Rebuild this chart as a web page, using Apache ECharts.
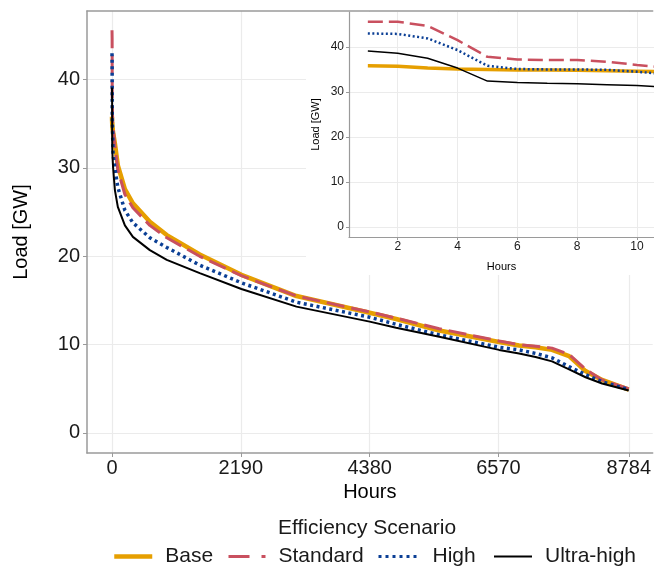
<!DOCTYPE html>
<html><head><meta charset="utf-8">
<script src="https://cdn.jsdelivr.net/npm/echarts@6/dist/echarts.min.js"></script>
<style>html,body{margin:0;padding:0;background:#fff;overflow:hidden}#c{width:654px;height:571px}</style>
</head><body><div id="c"></div>
<script>
// Data (hours of the sorted load duration curve, GW)
const hours      = [1,2,3,4,5,6,7,8,9,10,11,12,20,50,100,220,356,644,932,1492,2200,3136,4380,4830,5563,6580,6920,7200,7480,7770,8050,8330,8784];
const base       = [35.8,35.7,35.3,35.1,35.0,34.9,34.9,34.8,34.7,34.6,34.5,34.4,34.0,32.8,30.3,27.6,26.0,23.9,22.4,20.2,17.9,15.5,13.6,12.9,11.6,10.3,9.9,9.7,9.4,8.7,7.0,6.0,4.9];
const standard   = [45.6,45.6,44.7,41.5,37.8,37.2,37.1,37.1,36.7,36.0,35.4,35.1,34.6,32.5,29.8,27.0,25.5,23.5,22.1,20.0,17.8,15.5,13.7,13.0,11.8,10.4,10.0,9.8,9.6,8.9,7.2,6.0,5.0];
const high       = [43.0,42.9,41.9,39.3,35.8,35.1,35.0,35.0,34.9,34.5,33.9,33.6,31.5,30.0,27.8,25.2,23.8,22.1,21.0,19.0,17.0,14.8,13.1,12.3,11.1,9.7,9.4,9.0,8.5,7.5,6.6,5.8,4.9];
const ultraHigh  = [39.1,38.6,37.5,35.3,32.4,32.1,31.9,31.8,31.6,31.4,31.1,30.9,30.0,27.5,25.6,23.5,22.2,20.7,19.6,18.1,16.3,14.3,12.6,11.9,10.9,9.4,9.0,8.6,8.1,7.2,6.3,5.6,4.8];
const scenarioNames = ['Base','Standard','High','Ultra-high'];
const mainXTicks = [0,2190,4380,6570,8784];
const yTicks = [0,10,20,30,40];
const insetXTicks = [2,4,6,8,10];

const FONT = 'Liberation Sans, Arial, sans-serif';
const pairs = arr => hours.map((h,i)=>[h,arr[i]]);
const values = [base, standard, high, ultraHigh];
const colors = ['#E69F00','#C9505F','#0B3F95','#000000'];
const mainStyle = [
  {width:4.5, type:'solid'},
  {width:3, type:[18,7]},
  {width:3.5, type:[3,3.5]},
  {width:2, type:'solid'}
];
const insetStyle = [
  {width:3.5, type:'solid'},
  {width:2.5, type:[15,6]},
  {width:2.5, type:[2,2.5]},
  {width:1.5, type:'solid'}
];
const legendStyle = [
  {left:112, w:38, type:'solid', width:4.5},
  {left:227, w:37, type:[21,12], width:3},
  {left:377, w:41, type:[3,4], width:3},
  {left:493, w:38, type:'solid', width:2}
];

const series = [];
values.forEach((v,i)=>{
  series.push({type:'line', name:scenarioNames[i], xAxisIndex:0, yAxisIndex:0, data:pairs(v),
    symbol:'none', z:2, lineStyle:Object.assign({color:colors[i]}, mainStyle[i]), itemStyle:{color:colors[i]}});
});
values.forEach((v,i)=>{
  series.push({type:'line', name:scenarioNames[i], xAxisIndex:2, yAxisIndex:1, data:pairs(v),
    symbol:'none', z:12, lineStyle:Object.assign({color:colors[i]}, insetStyle[i]), itemStyle:{color:colors[i]}});
});

const axisGray = '#9a9a9a';
const gridGray = '#ebebeb';
const plain = v => String(v);

const legends = scenarioNames.map((n,i)=>({
  data:[n], left:legendStyle[i].left, top:546, orient:'horizontal', padding:0,
  itemWidth:legendStyle[i].w, itemHeight:14, selectedMode:false,
  itemStyle:{color:'rgba(0,0,0,0)', borderWidth:0, opacity:0},
  lineStyle:{color:colors[i], width:legendStyle[i].width, type:legendStyle[i].type, opacity:1},
  textStyle:{fontSize:21, color:'#1a1a1a', fontFamily:FONT, padding:[0,0,0,8]}
}));

const chart = echarts.init(document.getElementById('c'), null, {renderer:'canvas', width:654, height:571});
chart.setOption({
  animation:false,
  backgroundColor:'#fff',
  title:{text:'Efficiency Scenario', left:278, top:518, padding:0,
    textStyle:{fontSize:21, fontWeight:'normal', color:'#1a1a1a', fontFamily:FONT}},
  legend:legends,
  grid:[
    {left:87, right:0, top:11, bottom:118, containLabel:false},
    {left:349, right:0, top:12, bottom:334, containLabel:false}
  ],
  graphic:[{type:'rect', z:5, shape:{x:306, y:12, width:348, height:263}, style:{fill:'#fff'}}],
  xAxis:[
    {gridIndex:0, type:'value', min:-424, max:9191,
      axisLine:{show:true, onZero:false, lineStyle:{color:axisGray, width:1.5}},
      axisTick:{show:true, length:4, customValues:mainXTicks, lineStyle:{color:axisGray}},
      axisLabel:{customValues:mainXTicks, formatter:plain, fontSize:20, color:'#1a1a1a', fontFamily:FONT, margin:5},
      splitLine:{show:true, lineStyle:{color:gridGray, width:1.2}},
      name:'Hours', nameLocation:'middle', nameGap:27,
      nameTextStyle:{fontSize:20, color:'#000', fontFamily:FONT}},
    {gridIndex:0, type:'value', position:'top', min:-424, max:9191,
      axisLine:{show:true, onZero:false, lineStyle:{color:axisGray, width:1.5}},
      axisTick:{show:false}, axisLabel:{show:false}, splitLine:{show:false}},
    {gridIndex:1, type:'value', min:0.37, max:10.57, z:10,
      axisLine:{show:true, onZero:false, lineStyle:{color:axisGray, width:1.2}},
      axisTick:{show:true, length:3, customValues:insetXTicks, lineStyle:{color:axisGray}},
      axisLabel:{customValues:insetXTicks, formatter:plain, fontSize:12, color:'#1a1a1a', fontFamily:FONT, margin:4},
      splitLine:{show:true, lineStyle:{color:gridGray, width:1}},
      name:'Hours', nameLocation:'middle', nameGap:24,
      nameTextStyle:{fontSize:11, color:'#000', fontFamily:FONT}}
  ],
  yAxis:[
    {gridIndex:0, type:'value', min:-2.275, max:47.775,
      axisLine:{show:true, onZero:false, lineStyle:{color:axisGray, width:1.5}},
      axisTick:{show:true, length:4, customValues:yTicks, lineStyle:{color:axisGray}},
      axisLabel:{customValues:yTicks, formatter:plain, fontSize:20, color:'#1a1a1a', fontFamily:FONT, margin:7},
      splitLine:{show:true, lineStyle:{color:gridGray, width:1.2}},
      name:'Load [GW]', nameLocation:'middle', nameGap:56,
      nameTextStyle:{fontSize:20, color:'#000', fontFamily:FONT}},
    {gridIndex:1, type:'value', min:-2.275, max:47.775, z:10,
      axisLine:{show:true, onZero:false, lineStyle:{color:axisGray, width:1.2}},
      axisTick:{show:true, length:3, customValues:yTicks, lineStyle:{color:axisGray}},
      axisLabel:{customValues:yTicks, formatter:plain, fontSize:12, color:'#1a1a1a', fontFamily:FONT, margin:5},
      splitLine:{show:true, lineStyle:{color:gridGray, width:1}},
      name:'Load [GW]', nameLocation:'middle', nameGap:28,
      nameTextStyle:{fontSize:11, color:'#000', fontFamily:FONT}}
  ],
  series:series
});
</script>
</body></html>
